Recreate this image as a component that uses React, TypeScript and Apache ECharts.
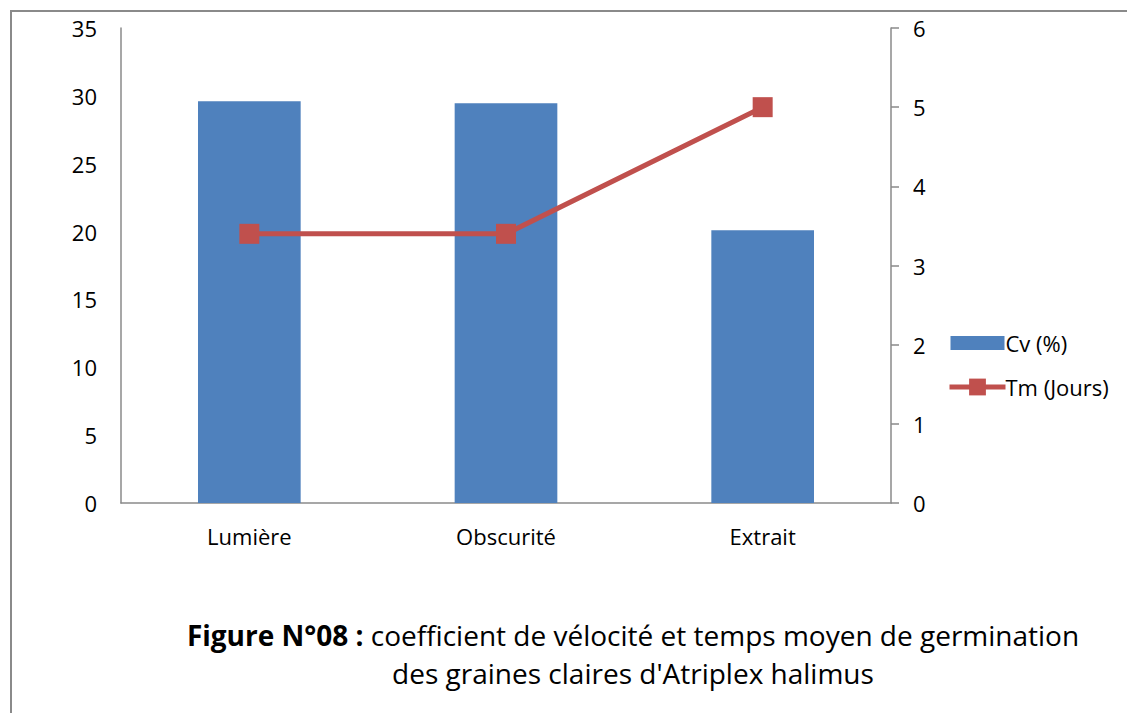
import React, { useEffect, useRef } from "react";
import * as echarts from "echarts";

const categories = ["Lumière", "Obscurité", "Extrait"];
const cvValues = [29.6, 29.45, 20.1];
const tmValues = [3.4, 3.4, 5.0];
const leftTicks = { min: 0, max: 35, interval: 5 };
const rightTicks = { min: 0, max: 6, interval: 1 };

export default function App() {
  const ref = useRef<HTMLDivElement>(null);
  useEffect(() => {
    document.body.style.margin = "0";
    const chart = echarts.init(ref.current!, null, { renderer: "svg" });
    const font = "'Open Sans', 'DejaVu Sans', sans-serif";
    chart.setOption({
      animation: false,
      backgroundColor: "#ffffff",
      textStyle: { fontFamily: font },
      grid: { left: 121, right: 1127 - 891, top: 28, bottom: 713 - 503 },
      title: {
        left: 628,
        top: 611,
        textAlign: "center",
        text:
          "{b|Figure N°08 :}{n| coefficient de vélocité et temps moyen de germination}\n{n|des graines claires d'Atriplex halimus}",
        textStyle: {
          rich: {
            b: { fontFamily: font, fontWeight: "bold", fontSize: 28, color: "#000", lineHeight: 38 },
            n: { fontFamily: font, fontWeight: "normal", fontSize: 28, color: "#000", lineHeight: 38 },
          },
        },
      },
      legend: {
        orient: "vertical",
        left: 942,
        top: 327,
        itemWidth: 56,
        itemHeight: 21,
        itemGap: 22,
        lineStyle: { width: 5 },
        textStyle: { fontSize: 22, color: "#000", fontFamily: font, padding: [0, 0, 0, -5] },
        data: [
          {
            name: "Cv (%)",
            icon: "path://M0,0L0,0M1,3.5L55,3.5L55,17.5L1,17.5ZM56,21L56,21",
          },
          { name: "Tm (Jours)" },
        ],
      },
      graphic: [
        {
          type: "rect",
          shape: { x: 11, y: 11, width: 1300, height: 900 },
          style: { fill: "none", stroke: "#8a8a8a", lineWidth: 2 },
          silent: true,
        },
      ],
      xAxis: {
        type: "category",
        data: categories,
        axisLine: { lineStyle: { color: "#8a8a8a", width: 1.5 } },
        axisTick: { show: false },
        axisLabel: { fontSize: 22, color: "#000", margin: 22, fontFamily: font },
      },
      yAxis: [
        {
          type: "value",
          ...leftTicks,
          axisLine: { show: true, lineStyle: { color: "#8a8a8a", width: 1.5 } },
          axisTick: { show: false },
          splitLine: { show: false },
          axisLabel: { fontSize: 22, color: "#000", margin: 24, fontFamily: font },
        },
        {
          type: "value",
          ...rightTicks,
          position: "right",
          axisLine: { show: true, lineStyle: { color: "#8a8a8a", width: 1.5 } },
          axisTick: { show: true, length: 8, lineStyle: { color: "#8a8a8a", width: 1.5 } },
          splitLine: { show: false },
          axisLabel: { fontSize: 22, color: "#000", margin: 22, fontFamily: font },
        },
      ],
      series: [
        {
          name: "Cv (%)",
          type: "bar",
          data: cvValues,
          barWidth: "40%",
          itemStyle: { color: "#4F81BD" },
        },
        {
          name: "Tm (Jours)",
          type: "line",
          yAxisIndex: 1,
          data: tmValues,
          symbol: "rect",
          symbolSize: 20,
          lineStyle: { color: "#C0504D", width: 5 },
          itemStyle: { color: "#C0504D" },
        },
      ],
    });
    return () => chart.dispose();
  }, []);
  return (
    <div
      ref={ref}
      style={{ position: "absolute", left: 0, top: 0, width: 1127, height: 713 }}
    />
  );
}
